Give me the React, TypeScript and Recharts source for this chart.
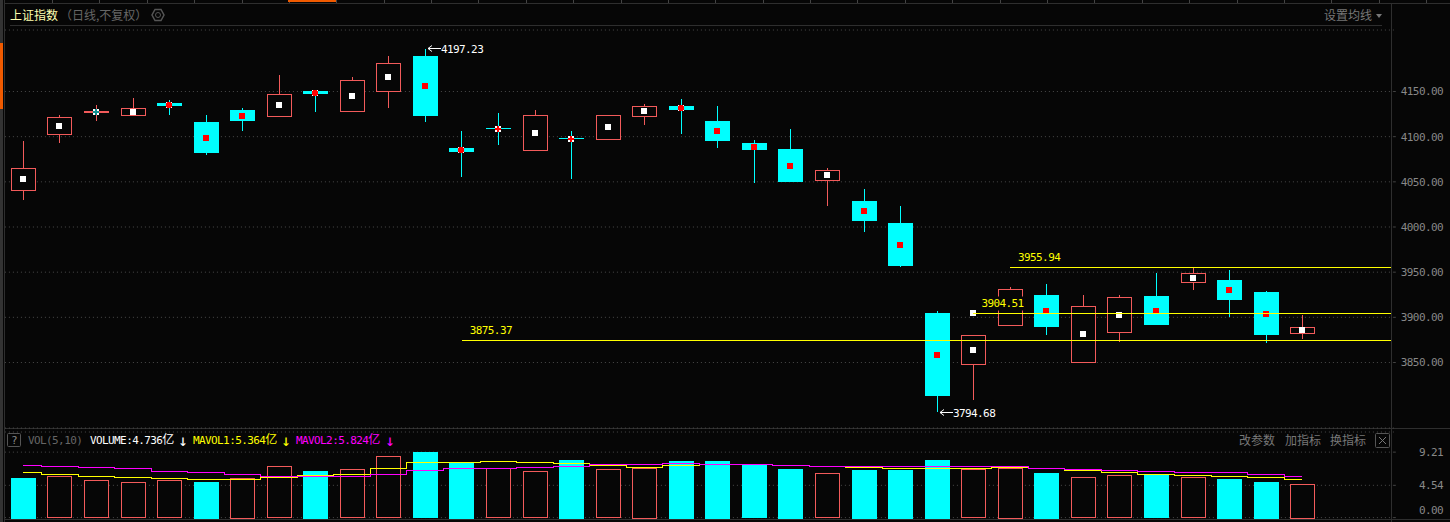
import React from 'react'
import { Bar, CartesianGrid, ComposedChart, Line, ReferenceDot, ReferenceLine, XAxis, YAxis } from 'recharts'

const opens = [4040.6, 4103, 4127.4, 4124.1, 4137, 4116, 4129.3, 4123, 4151, 4128.5, 4150.7, 4189.1, 4087.2, 4109.3, 4085, 4098.3, 4097.1, 4122.6, 4133.7, 4117.1, 4092.7, 4086.1, 4051.7, 4028.5, 4004.1, 3904.4, 3848.2, 3891.8, 3924.3, 3850.4, 3883.6, 3923.2, 3939, 3940.9, 3927.6, 3882.5]
const closes = [4065, 4122.3, 4128.5, 4131.2, 4133.7, 4081.6, 4117.1, 4146.7, 4147, 4162.2, 4182.1, 4122.6, 4082.7, 4108.2, 4123.7, 4097.1, 4123.7, 4133.7, 4129.3, 4094.9, 4085, 4049.5, 4062.8, 4006.3, 3956.4, 3812.7, 3880.8, 3931.7, 3889.2, 3912.9, 3922.9, 3891.1, 3948.7, 3918.8, 3880, 3889.6]
const highs = [4094.9, 4123.7, 4134.8, 4142.6, 4140.4, 4123.7, 4131.5, 4168.1, 4151.4, 4165.5, 4189.1, 4197.23, 4106, 4126, 4129.3, 4106, 4123.7, 4135.9, 4141.5, 4133.7, 4096, 4108.2, 4065, 4041.7, 4022.9, 3906.6, 3880.8, 3933.2, 3936.5, 3924.3, 3924.3, 3948.7, 3954.2, 3952, 3928.7, 3902.1]
const lows = [4029.6, 4092.7, 4117.4, 4122.6, 4123.7, 4079.4, 4106, 4123, 4127.1, 4128.5, 4131.8, 4116.3, 4055, 4090.5, 4085, 4052.8, 4097.1, 4112.7, 4102.7, 4087.2, 4048.4, 4049.5, 4022.9, 3994.1, 3955.94, 3794.68, 3808.3, 3891.8, 3880, 3850.4, 3872.6, 3891.1, 3929.8, 3900, 3871.1, 3875.6]

const volumes = [5.57, 5.81, 5.25, 4.96, 5.25, 5.01, 5.61, 7.22, 6.55, 6.79, 8.62, 9.21, 7.72, 6.93, 6.51, 8.1, 6.79, 7.02, 7.96, 7.96, 7.5, 6.84, 6.23, 6.69, 6.69, 8.1, 6.79, 7.02, 6.27, 5.67, 5.95, 6.09, 5.67, 5.43, 5.01, 4.736]
const volumeUp = [0, 1, 1, 1, 1, 0, 1, 1, 0, 1, 1, 0, 0, 1, 1, 0, 1, 1, 0, 0, 0, 0, 1, 0, 0, 0, 1, 1, 0, 1, 1, 0, 1, 0, 0, 1]
const mavol1 = [6.37, 6.13, 5.85, 5.67, 5.53, 5.39, 5.29, 5.67, 5.99, 6.13, 6.93, 7.78, 7.78, 7.92, 7.78, 7.64, 7.26, 7.07, 7.36, 7.4, 7.4, 7.36, 7.16, 7.07, 6.88, 6.93, 6.95, 7.07, 6.93, 6.6, 6.32, 6.09, 5.95, 5.81, 5.61, 5.364]
const mavol2 = [7.36, 7.16, 7.02, 6.84, 6.55, 6.32, 6.09, 5.75, 5.75, 5.85, 6.09, 6.65, 6.84, 6.93, 7.07, 7.22, 7.5, 7.5, 7.58, 7.5, 7.4, 7.3, 7.22, 7.12, 7.12, 7.16, 7.22, 7.16, 6.93, 6.79, 6.65, 6.51, 6.37, 6.32, 6.13, 5.824]

const priceTicks = [3850, 3900, 3950, 4000, 4050, 4100, 4150]
const volumeTicks = [0, 4.54, 9.21]
const priceLines = [
  { value: 3875.37, from: 12 },
  { value: 3904.51, from: 26 },
  { value: 3955.94, from: 27 },
]
const blankDays = [36, 37]

const table = opens
  .map((open, i) => ({
    day: i,
    open,
    close: closes[i],
    high: highs[i],
    low: lows[i],
    range: [lows[i], highs[i]],
    volume: volumes[i],
    volumeUp: volumeUp[i],
    mavol1: mavol1[i],
    mavol2: mavol2[i],
  }))
  .concat(blankDays.map((day) => ({ day } as any)))

const BG = '#060606'
const RED = '#f25a5a'
const CYAN = '#00ffff'
const RULE = '#2e2e2e'
const MONO = '"DejaVu Sans Mono", "Liberation Mono", monospace'
const CJK = '"Noto Sans CJK SC", sans-serif'
const PLOT_RIGHT = 1391
const monoText = { fontFamily: MONO, fontSize: 11, letterSpacing: -0.6 }

const Candle = (props: any) => {
  const { x, y, width, height, payload } = props
  if (payload.high === undefined) return null
  const { open, close, high, low } = payload
  const perUnit = height / (high - low)
  const top = Math.round(y + (high - Math.max(open, close)) * perUnit)
  const bottom = Math.round(y + (high - Math.min(open, close)) * perUnit)
  const cx = Math.floor(x + width / 2)
  const up = close > open
  const color = up ? RED : CYAN
  const mid = Math.round((top + bottom) / 2)
  const thin = bottom - top < 6
  const arm = bottom - top > 2 ? 2 : 1
  return (
    <g shapeRendering='crispEdges'>
      <rect x={cx} y={Math.round(y)} width={1} height={Math.max(top - Math.round(y), 0)} fill={color} />
      <rect x={cx} y={bottom} width={1} height={Math.max(Math.round(y + height) - bottom, 0)} fill={color} />
      {up ? (
        <rect x={cx - 11.5} y={top + 0.5} width={24} height={Math.max(bottom - top, 1)} fill={BG} stroke={color} />
      ) : (
        <rect x={cx - 12} y={top} width={25} height={Math.max(bottom - top, 1)} fill={color} />
      )}
      {thin ? (
        <>
          <rect x={cx - 3} y={mid - 3} width={6} height={6} fill='#fff' />
          <rect x={cx - 3} y={mid - arm} width={6} height={arm * 2} fill={up ? '#0f8f8f' : '#f00'} />
          <rect x={cx - arm} y={mid - 3} width={arm * 2} height={6} fill={up ? '#0f8f8f' : '#f00'} />
        </>
      ) : (
        <rect x={cx - 3} y={mid - 3} width={6} height={6} fill={up ? '#fff' : '#f00'} />
      )}
    </g>
  )
}

const VolumeBar = (props: any) => {
  const { x, y, width, height, payload } = props
  if (payload.volume === undefined) return null
  const cx = Math.floor(x + width / 2)
  return payload.volumeUp ? (
    <rect x={cx - 11.5} y={Math.round(y) + 0.5} width={24} height={Math.round(height)} fill={BG} stroke={RED} shapeRendering='crispEdges' />
  ) : (
    <rect x={cx - 12} y={Math.round(y)} width={25} height={Math.round(height) + 1} fill={CYAN} shapeRendering='crispEdges' />
  )
}

const PriceLine = (props: any) => {
  const { x1, y1, value, starter } = props
  const y = Math.round(y1) + 0.5
  return (
    <g>
      {starter && <rect x={x1 - 3} y={y - 3.5} width={6} height={6} fill='#fff' shapeRendering='crispEdges' />}
      <line x1={x1} y1={y} x2={PLOT_RIGHT} y2={y} stroke='#ffff00' shapeRendering='crispEdges' />
      {starter && <rect x={x1 + 7} y={y - 17} width={46} height={14} fill={BG} />}
      <text x={x1 + 8} y={y - 6.5} fill='#ffff00' {...monoText}>
        {value.toFixed(2)}
      </text>
    </g>
  )
}

const ExtremeLabel = (props: any) => {
  const { cx, cy, value } = props
  const y = Math.floor(cy) + 0.5
  const ax = Math.round(cx) + 3
  return (
    <g>
      <path d={`M${ax + 13} ${y}H${ax}M${ax + 4} ${y - 3}L${ax} ${y}L${ax + 4} ${y + 3}`} stroke='#fff' fill='none' />
      <text x={ax + 13} y={y + 4} fill='#fff' {...monoText}>
        {value.toFixed(2)}
      </text>
    </g>
  )
}

// the zero label sits above its gridline in the original
const AxisTick = (props: any) => {
  const { y, payload } = props
  return (
    <text x={1443} y={y + (payload.value === 0 ? -3.5 : 4)} textAnchor='end' fill='#888' {...monoText}>
      {payload.value.toFixed(2)}
    </text>
  )
}

const tabEdges = Array.from({ length: 30 }, (_, i) => Math.round(52 + i * 47.38))

const Chrome = () => (
  <svg width={1450} height={522} style={{ position: 'absolute', left: 0, top: 0 }}>
    <g shapeRendering='crispEdges'>
      <rect x={0} y={0} width={3} height={522} fill='#333' />
      <rect x={0} y={43} width={3} height={66} fill='#f05a00' />
      <rect x={4} y={0} width={1} height={522} fill={RULE} />
      <rect x={5} y={3} width={1445} height={1} fill={RULE} />
      {tabEdges.map((x) => (
        <rect key={x} x={x} y={0} width={1} height={3} fill='#444' />
      ))}
      <rect x={288} y={0} width={48} height={2} fill='#f05a00' />
      <rect x={10} y={25} width={1372} height={1} fill={RULE} />
      <rect x={1391} y={4} width={1} height={518} fill={RULE} />
      <rect x={5} y={428} width={1445} height={1} fill={RULE} />
      <rect x={5} y={519} width={1445} height={1} fill={RULE} />
    </g>
    <text x={10} y={20} fill='#ffffb0' fontFamily={CJK} fontSize={12}>上证指数</text>
    <text x={60} y={20} fill='#666' fontFamily={CJK} fontSize={12}>（日线,不复权）</text>
    <path d='M155 9.5h6l3 5.5l-3 5.5h-6l-3-5.5z' fill='none' stroke='#555' strokeWidth={1.5} />
    <circle cx={158} cy={15} r={2.5} fill='none' stroke='#555' />
    <text x={1324} y={20} fill='#777' fontFamily={CJK} fontSize={12}>设置均线</text>
    <path d='M1376 14h6l-3 4z' fill='#777' />
    <rect x={7.5} y={433.5} width={13} height={13} rx={1} fill='none' stroke='#555' />
    <text x={14} y={444} fill='#888' textAnchor='middle' {...monoText}>?</text>
    <text x={28} y={444} fill='#666' {...monoText}>VOL(5,10)</text>
    <text x={90} y={444} fill='#fff' {...monoText}>VOLUME:4.736<tspan fontFamily={CJK} fontSize={12} letterSpacing={0}>亿</tspan></text>
    <text x={183} y={446} fill='#fff' fontFamily={MONO} fontSize={16} textAnchor='middle'>↓</text>
    <text x={193} y={444} fill='#ffff00' {...monoText}>MAVOL1:5.364<tspan fontFamily={CJK} fontSize={12} letterSpacing={0}>亿</tspan></text>
    <text x={286} y={446} fill='#ffff00' fontFamily={MONO} fontSize={16} textAnchor='middle'>↓</text>
    <text x={296} y={444} fill='#ff00ff' {...monoText}>MAVOL2:5.824<tspan fontFamily={CJK} fontSize={12} letterSpacing={0}>亿</tspan></text>
    <text x={390} y={446} fill='#ff00ff' fontFamily={MONO} fontSize={16} textAnchor='middle'>↓</text>
    <text x={1239} y={445} fill='#777' fontFamily={CJK} fontSize={12}>改参数</text>
    <text x={1285} y={445} fill='#777' fontFamily={CJK} fontSize={12}>加指标</text>
    <text x={1330} y={445} fill='#777' fontFamily={CJK} fontSize={12}>换指标</text>
    <rect x={1375.5} y={433.5} width={14} height={14} rx={1} fill='none' stroke='#555' />
    <path d='M1379 437l7 7M1386 437l-7 7' stroke='#777' />
  </svg>
)

const gridProps = { vertical: false, stroke: '#4a4a4a', strokeDasharray: '1 3' }

export default function App() {
  return (
    <div style={{ position: 'absolute', left: 0, top: 0, width: 1450, height: 522, background: BG, overflow: 'hidden' }}>
      <Chrome />
      <div style={{ position: 'absolute', left: 0, top: 0 }}>
        <ComposedChart width={1450} height={522} data={table} margin={{ top: 30, right: 0, bottom: 94, left: 4.9 }}>
          <CartesianGrid {...gridProps} />
          <XAxis dataKey='day' hide />
          <YAxis
            orientation='right'
            width={56.2}
            domain={[3777.48, 4218.08]}
            ticks={priceTicks}
            tick={<AxisTick />}
            axisLine={false}
            tickLine={{ stroke: '#444' }}
            tickSize={2}
            interval={0}
          />
          <Bar dataKey='range' barSize={25} shape={<Candle />} isAnimationActive={false} />
          {priceLines.map((l) => (
            <ReferenceLine
              key={l.value}
              segment={[{ x: l.from, y: l.value }, { x: 37, y: l.value }]}
              shape={<PriceLine value={l.value} starter={l.from === 26} />}
            />
          ))}
          <ReferenceDot x={11} y={4197.23} r={0} shape={<ExtremeLabel value={4197.23} />} />
          <ReferenceDot x={25} y={3794.68} r={0} shape={<ExtremeLabel value={3794.68} />} />
        </ComposedChart>
      </div>
      <div style={{ position: 'absolute', left: 0, top: 0 }}>
        <ComposedChart width={1450} height={522} data={table} margin={{ top: 432, right: 0, bottom: 4.4, left: 4.9 }}>
          <CartesianGrid {...gridProps} />
          <XAxis dataKey='day' hide />
          <YAxis
            orientation='right'
            width={56.2}
            domain={[0, 12.04]}
            ticks={volumeTicks}
            tick={<AxisTick />}
            axisLine={false}
            tickLine={{ stroke: '#444' }}
            tickSize={2}
            interval={0}
          />
          <Bar dataKey='volume' barSize={25} shape={<VolumeBar />} isAnimationActive={false} />
          <Line dataKey='mavol1' type='step' stroke='#ffff00' strokeWidth={1} dot={false} activeDot={false} isAnimationActive={false} shapeRendering='crispEdges' />
          <Line dataKey='mavol2' type='step' stroke='#ff00ff' strokeWidth={1} dot={false} activeDot={false} isAnimationActive={false} shapeRendering='crispEdges' />
        </ComposedChart>
      </div>
    </div>
  )
}
